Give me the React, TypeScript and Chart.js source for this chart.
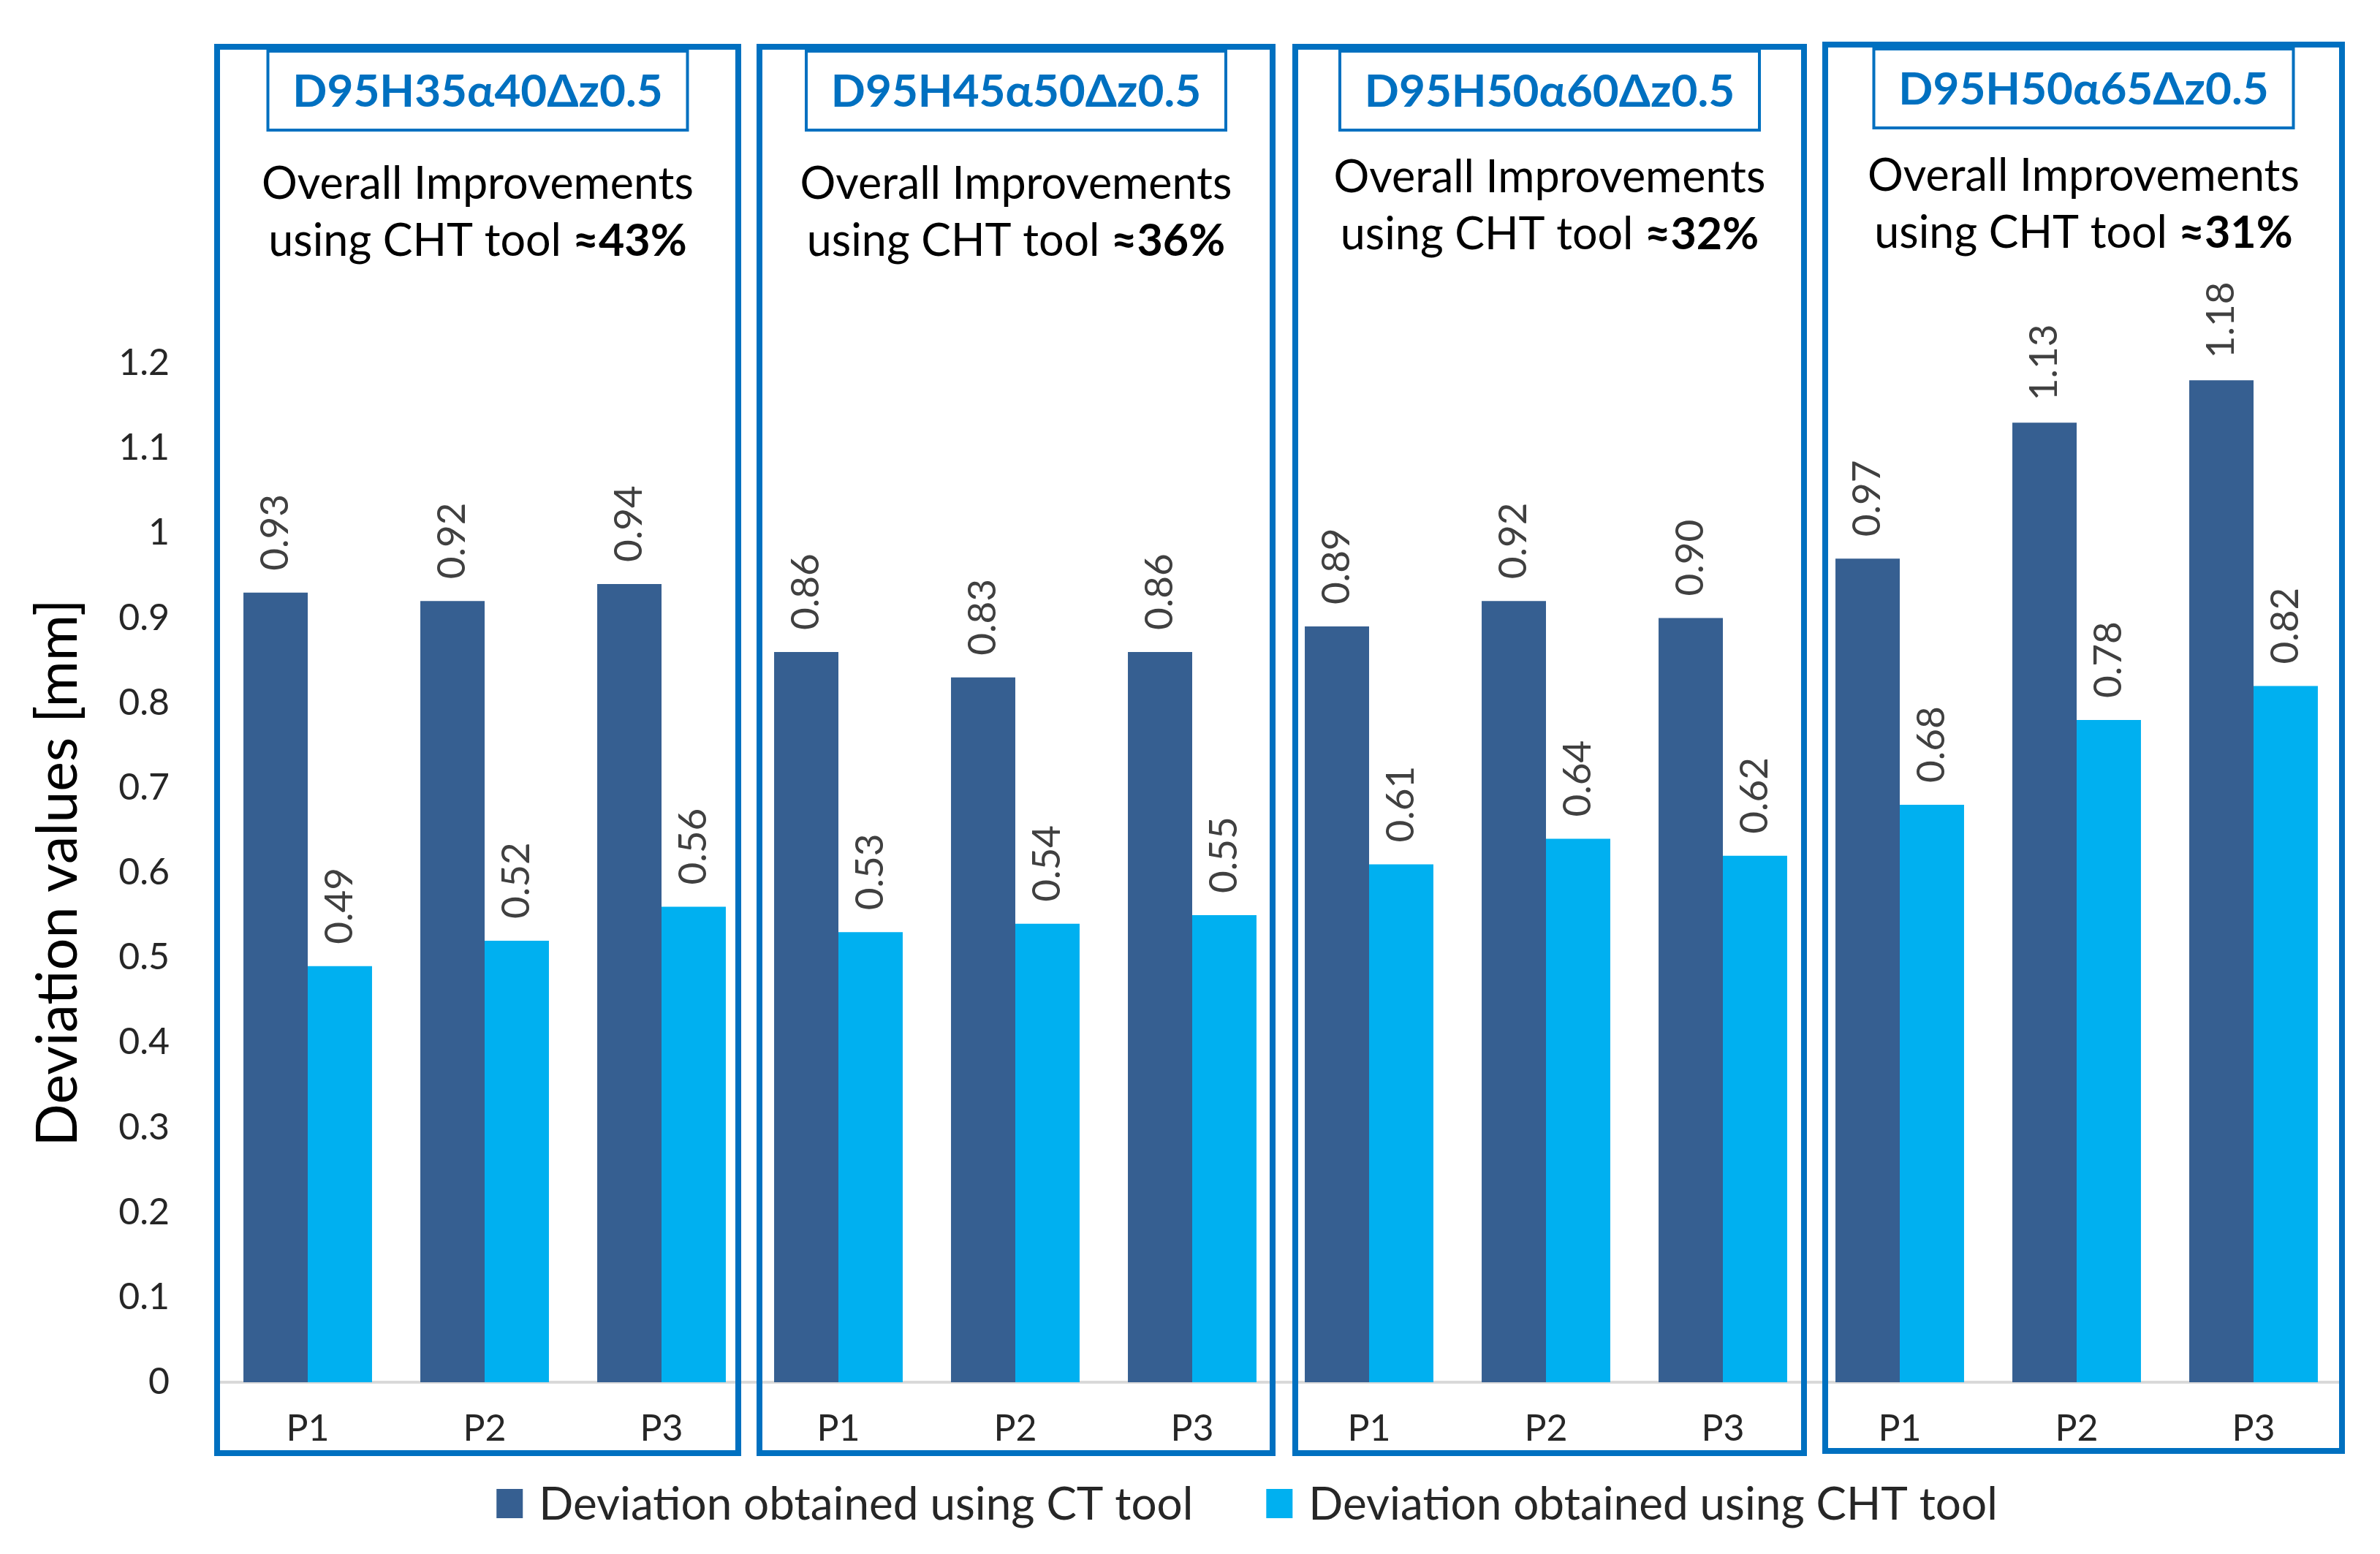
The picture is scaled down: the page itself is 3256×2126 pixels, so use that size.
import React, { useEffect, useRef } from 'react';
import { Chart, registerables } from 'chart.js';

Chart.register(...registerables);

// ---- data ----
const categories = ['P1', 'P2', 'P3', 'P1', 'P2', 'P3', 'P1', 'P2', 'P3', 'P1', 'P2', 'P3'];
const ctValues = [0.93, 0.92, 0.94, 0.86, 0.83, 0.86, 0.89, 0.92, 0.9, 0.97, 1.13, 1.18];
const chtValues = [0.49, 0.52, 0.56, 0.53, 0.54, 0.55, 0.61, 0.64, 0.62, 0.68, 0.78, 0.82];
const seriesNames = ['Deviation obtained using CT tool', 'Deviation obtained using CHT tool'];
const groupTitles = ['D95H35α40Δz0.5', 'D95H45α50Δz0.5', 'D95H50α60Δz0.5', 'D95H50α65Δz0.5'];
const improvements = ['≈43%', '≈36%', '≈32%', '≈31%'];

// ---- styling / layout ----
const W = 3256;
const H = 2126;
const DARK = '#365F91';
const LIGHT = '#00B0F0';
const BLUE = '#0070C0';
const FONT = 'Lato, "Noto Sans", sans-serif';

// frame edges relative to the group boundaries on the category axis
const FRAME_INSETS = [[-3, -16], [13, -11], [20, -10], [19, 0]];
const FRAME_TOPS = [64, 64, 64, 61];
const FRAME_BOTTOMS = [1988, 1988, 1988, 1985];
const LINE1_BASE = [272, 272, 263, 261];

const panelsPlugin = {
  id: 'panels',
  afterDraw(chart: any) {
    const { ctx, chartArea, scales } = chart;
    const x = scales.x;
    const catW = (chartArea.right - chartArea.left) / categories.length;
    ctx.save();
    groupTitles.forEach((title, i) => {
      const b0 = x.getPixelForValue(i * 3) - catW / 2;
      const b1 = x.getPixelForValue(i * 3 + 2) + catW / 2;
      const left = b0 + FRAME_INSETS[i][0];
      const right = b1 + FRAME_INSETS[i][1];
      const top = FRAME_TOPS[i];
      const bottom = FRAME_BOTTOMS[i];
      const cx = (left + right) / 2;

      ctx.strokeStyle = BLUE;
      ctx.lineWidth = 8;
      ctx.strokeRect(left, top, right - left, bottom - top);

      ctx.lineWidth = 4;
      ctx.strokeRect(cx - 287, top + 6, 574, 108);

      ctx.textBaseline = 'alphabetic';
      ctx.textAlign = 'center';
      ctx.fillStyle = BLUE;
      ctx.font = `bold 62px ${FONT}`;
      ctx.fillText(title, cx, top + 82);

      ctx.fillStyle = '#000';
      ctx.font = `61px ${FONT}`;
      ctx.fillText('Overall Improvements', cx, LINE1_BASE[i]);

      const part1 = 'using CHT tool ';
      ctx.font = `61px ${FONT}`;
      const w1 = ctx.measureText(part1).width;
      ctx.font = `bold 61px ${FONT}`;
      const w2 = ctx.measureText(improvements[i]).width;
      const start = cx - (w1 + w2) / 2;
      ctx.textAlign = 'left';
      ctx.font = `61px ${FONT}`;
      ctx.fillText(part1, start, LINE1_BASE[i] + 78);
      ctx.font = `bold 61px ${FONT}`;
      ctx.fillText(improvements[i], start + w1, LINE1_BASE[i] + 78);
    });
    ctx.restore();
  },
};

const valueLabelsPlugin = {
  id: 'valueLabels',
  afterDatasetsDraw(chart: any) {
    const { ctx } = chart;
    ctx.save();
    ctx.font = `53px ${FONT}`;
    ctx.fillStyle = '#404040';
    ctx.textAlign = 'left';
    ctx.textBaseline = 'middle';
    chart.data.datasets.forEach((ds: any, di: number) => {
      const meta = chart.getDatasetMeta(di);
      meta.data.forEach((bar: any, i: number) => {
        ctx.save();
        ctx.translate(bar.x, bar.y - 30);
        ctx.rotate(-Math.PI / 2);
        ctx.fillText(Number(ds.data[i]).toFixed(2), 0, 0);
        ctx.restore();
      });
    });
    ctx.restore();
  },
};

const legendPlugin = {
  id: 'bottomLegend',
  afterDraw(chart: any) {
    const { ctx } = chart;
    const boxW = 36;
    const boxH = 40;
    const gap = 22;
    const itemGap = 100;
    const cy = 2057;
    ctx.save();
    ctx.font = `62px ${FONT}`;
    const widths = chart.data.datasets.map((ds: any) => ctx.measureText(ds.label).width);
    const total = widths.reduce((a: number, w: number) => a + boxW + gap + w, 0) + itemGap;
    let xPos = 1706 - total / 2;
    chart.data.datasets.forEach((ds: any, i: number) => {
      ctx.fillStyle = ds.backgroundColor;
      ctx.fillRect(xPos, cy - boxH / 2, boxW, boxH);
      ctx.fillStyle = '#262626';
      ctx.textAlign = 'left';
      ctx.textBaseline = 'middle';
      ctx.fillText(ds.label, xPos + boxW + gap, cy + 2);
      xPos += boxW + gap + widths[i] + itemGap;
    });
    ctx.restore();
  },
};

const DeviationChart: React.FC = () => {
  const canvasRef = useRef<HTMLCanvasElement>(null);
  const chartRef = useRef<Chart | null>(null);

  useEffect(() => {
    if (!canvasRef.current) return;
    const ctx = canvasRef.current.getContext('2d');
    if (!ctx) return;

    chartRef.current = new Chart(ctx, {
      type: 'bar',
      data: {
        labels: categories,
        datasets: [
          { label: seriesNames[0], data: ctValues, backgroundColor: DARK, borderWidth: 0 },
          { label: seriesNames[1], data: chtValues, backgroundColor: LIGHT, borderWidth: 0 },
        ],
      },
      options: {
        responsive: false,
        animation: false,
        devicePixelRatio: 1,
        layout: { padding: { top: 497, right: 52, bottom: 0, left: 0 } },
        datasets: {
          bar: { categoryPercentage: 0.727, barPercentage: 1 },
        },
        plugins: {
          legend: { display: false },
          tooltip: { enabled: false },
        },
        scales: {
          x: {
            grid: { display: false },
            border: { display: true, color: '#d9d9d9', width: 4 },
            ticks: {
              font: { family: FONT, size: 50 },
              color: '#262626',
              padding: 26,
              maxRotation: 0,
              autoSkip: false,
            },
            afterFit: (scale: any) => {
              scale.height = 235;
            },
          },
          y: {
            min: 0,
            max: 1.2,
            grid: { display: false },
            border: { display: false },
            ticks: {
              stepSize: 0.1,
              font: { family: FONT, size: 50 },
              color: '#262626',
              padding: 60,
              callback: (v: any) => String(Number(Number(v).toFixed(1))),
            },
            title: {
              display: true,
              text: 'Deviation values [mm]',
              font: { family: FONT, size: 77 },
              color: '#000',
              padding: { top: 34, bottom: 0 },
            },
            afterFit: (scale: any) => {
              scale.width = 300;
            },
          },
        },
      },
      plugins: [valueLabelsPlugin, panelsPlugin, legendPlugin],
    });

    return () => {
      if (chartRef.current) {
        chartRef.current.destroy();
        chartRef.current = null;
      }
    };
  }, []);

  return (
    <div style={{ position: 'fixed', left: 0, top: 0, width: W, height: H, background: '#fff' }}>
      <canvas ref={canvasRef} width={W} height={H} style={{ width: W, height: H, display: 'block' }} />
    </div>
  );
};

export default function App() {
  return <DeviationChart />;
}
